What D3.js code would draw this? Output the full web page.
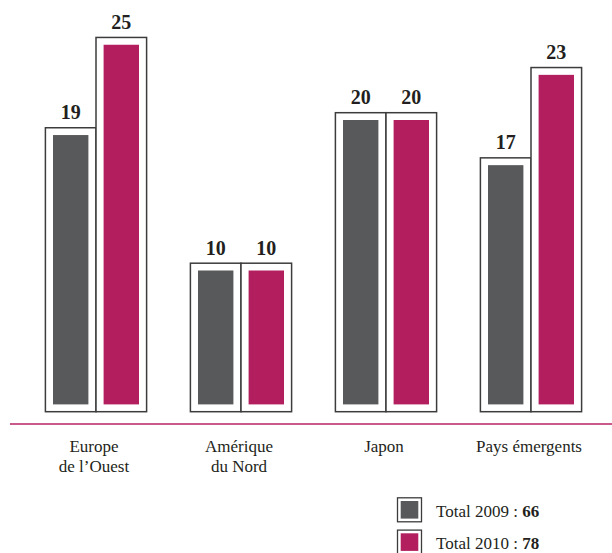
<!DOCTYPE html>
<html>
<head>
<meta charset="utf-8">
<script src="https://cdn.jsdelivr.net/npm/d3@7"></script>
<style>
  html, body { margin: 0; padding: 0; background: #fff; }
  svg { display: block; }
  text, tspan { font-family: "Liberation Serif", "DejaVu Serif", serif; fill: #231f20; }
</style>
</head>
<body>
<svg id="chart" width="612" height="553"></svg>
<script>
const categories = [["Europe", "de l’Ouest"], ["Amérique", "du Nord"], ["Japon"], ["Pays émergents"]];
const seriesNames = ["2009", "2010"];
const values2009 = [19, 10, 20, 17];
const values2010 = [25, 10, 20, 23];
const legendLabels = ["Total 2009 : ", "Total 2010 : "];
const legendTotals = ["66", "78"];
const colors = ["#58595b", "#b21e5e"];

const FONT = '"Liberation Serif", "DejaVu Serif", serif';
const svg = d3.select("#chart");
const W = 612, H = 553;

const catKeys = categories.map((c, i) => i);
const x = d3.scalePoint().domain(catKeys).range([96, 531]);
const xs = d3.scaleBand().domain(seriesNames).range([-50.6, 50.6]);
const y = d3.scaleLinear().domain([0, 25]).range([421, 44.75]);

const barBottom = 404.4;
const frameBottom = 411.7;
const inset = 7.6;
const frameTopPad = 7.3;

const data = [];
catKeys.forEach(i => {
  data.push({cat: i, s: "2009", v: values2009[i], c: colors[0]});
  data.push({cat: i, s: "2010", v: values2010[i], c: colors[1]});
});

// baseline
svg.append("line")
  .attr("x1", 10).attr("x2", W)
  .attr("y1", 424).attr("y2", 424)
  .attr("stroke", "#c95a8c").attr("stroke-width", 2);

const g = svg.append("g");
const grp = g.selectAll("g.bar").data(data).join("g").attr("class", "bar")
  .attr("transform", d => `translate(${x(d.cat) + xs(d.s)},0)`);

grp.append("rect")
  .attr("x", 0)
  .attr("y", d => y(d.v) - frameTopPad)
  .attr("width", xs.bandwidth())
  .attr("height", d => frameBottom - (y(d.v) - frameTopPad))
  .attr("fill", "#fff")
  .attr("stroke", "#3c3c3c")
  .attr("stroke-width", 1.5);

grp.append("rect")
  .attr("x", inset)
  .attr("y", d => y(d.v))
  .attr("width", xs.bandwidth() - 2 * inset)
  .attr("height", d => barBottom - y(d.v))
  .attr("fill", d => d.c);

grp.append("text")
  .attr("x", xs.bandwidth() / 2)
  .attr("y", d => y(d.v) - frameTopPad - 8.5)
  .attr("text-anchor", "middle")
  .attr("font-family", FONT)
  .attr("font-weight", "bold")
  .attr("font-size", 20)
  .text(d => d.v);

// category labels
const lab = svg.selectAll("text.cat").data(catKeys).join("text").attr("class", "cat")
  .attr("text-anchor", "middle")
  .attr("font-family", FONT)
  .attr("font-size", 17)
  .attr("transform", i => `translate(${x(i) - 2},452)`);
lab.selectAll("tspan").data(i => categories[i]).join("tspan")
  .attr("x", 0)
  .attr("font-family", FONT)
  .attr("dy", (d, j) => j === 0 ? 0 : 20)
  .text(d => d);

// legend
const leg = svg.selectAll("g.leg").data(seriesNames).join("g").attr("class", "leg")
  .attr("transform", (d, i) => `translate(397.5,${497.8 + i * 32.3})`);
leg.append("rect")
  .attr("x", 0).attr("y", 0).attr("width", 24).attr("height", 24)
  .attr("fill", "#fff").attr("stroke", "#3c3c3c").attr("stroke-width", 1.3);
leg.append("rect")
  .attr("x", 3.2).attr("y", 3.2).attr("width", 17.6).attr("height", 17.6)
  .attr("fill", (d, i) => colors[i]);
const lt = leg.append("text")
  .attr("x", 38.5).attr("y", 19)
  .attr("font-family", FONT)
  .attr("font-size", 17);
lt.append("tspan").attr("font-family", FONT).text((d, i) => legendLabels[i]);
lt.append("tspan").attr("font-family", FONT).attr("font-weight", "bold").text((d, i) => legendTotals[i]);
</script>
</body>
</html>
